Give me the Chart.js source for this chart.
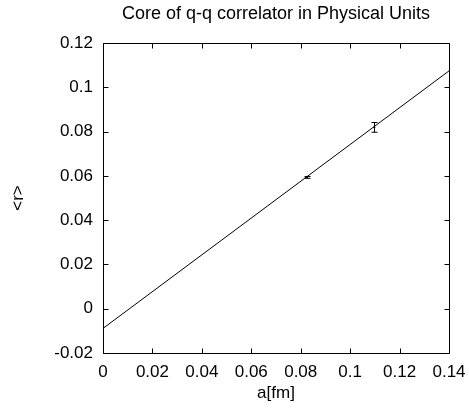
<!DOCTYPE html>
<html>
<head>
<meta charset="utf-8">
<script src="https://cdn.jsdelivr.net/npm/chart.js@4/dist/chart.umd.min.js"></script>
<style>
html,body{margin:0;padding:0;background:#fff;}
#wrap{width:469px;height:413px;position:relative;}
</style>
</head>
<body>
<div id="wrap"><canvas id="c" width="469" height="413"></canvas></div>
<script>
// Data
const pointX = [0.0824, 0.1098];
const pointY = [0.0593, 0.0819];
const pointErr = [0.0004, 0.0022];
const fitX = [0, 0.14];
const fitY = [-0.0089, 0.1074];
const xTicks = [0, 0.02, 0.04, 0.06, 0.08, 0.1, 0.12, 0.14];
const yTicks = [-0.02, 0, 0.02, 0.04, 0.06, 0.08, 0.1, 0.12];
const titleText = 'Core of q-q correlator in Physical Units';
const xLabel = 'a[fm]';
const yLabel = '<r>';

const fmt = v => String(Number(v.toFixed(2)));
const FONT = "'Liberation Sans', Arial, Helvetica, sans-serif";

const frame = {
  id: 'frame',
  afterDatasetsDraw(chart) {
    const ctx = chart.ctx;
    const xs = chart.scales.x, ys = chart.scales.y;
    ctx.save();
    ctx.strokeStyle = '#000';
    ctx.lineWidth = 1;
    pointX.forEach((px, i) => {
      const x = Math.round(xs.getPixelForValue(px)) + 0.5;
      const y1 = ys.getPixelForValue(pointY[i] + pointErr[i]);
      const y2 = ys.getPixelForValue(pointY[i] - pointErr[i]);
      ctx.beginPath();
      ctx.moveTo(x, y1); ctx.lineTo(x, y2);
      ctx.moveTo(x - 3, y1); ctx.lineTo(x + 3, y1);
      ctx.moveTo(x - 3, y2); ctx.lineTo(x + 3, y2);
      ctx.stroke();
    });
    ctx.restore();
  },
  afterDraw(chart) {
    const ctx = chart.ctx;
    const a = chart.chartArea;
    const xs = chart.scales.x, ys = chart.scales.y;
    ctx.save();
    ctx.strokeStyle = '#000';
    ctx.lineWidth = 1;
    ctx.beginPath();
    const L = Math.round(a.left) + 0.5, R = Math.round(a.right) + 0.5;
    const T = Math.round(a.top) + 0.5, B = Math.round(a.bottom) + 0.5;
    ctx.rect(L, T, R - L, B - T);
    const tl = 5;
    xTicks.forEach(v => {
      const x = Math.round(xs.getPixelForValue(v)) + 0.5;
      ctx.moveTo(x, B); ctx.lineTo(x, B - tl);
      ctx.moveTo(x, T); ctx.lineTo(x, T + tl);
    });
    yTicks.forEach(v => {
      const y = Math.round(ys.getPixelForValue(v)) + 0.5;
      ctx.moveTo(L, y); ctx.lineTo(L + tl, y);
      ctx.moveTo(R, y); ctx.lineTo(R - tl, y);
    });
    ctx.stroke();
    ctx.restore();
  }
};

new Chart(document.getElementById('c'), {
  type: 'scatter',
  data: {
    datasets: [
      {
        data: fitX.map((x, i) => ({x, y: fitY[i]})),
        showLine: true,
        borderColor: '#000',
        borderWidth: 1,
        pointRadius: 0,
        fill: false,
        clip: 0
      },
      {
        data: pointX.map((x, i) => ({x, y: pointY[i]})),
        showLine: false,
        pointRadius: 1.5,
        pointStyle: 'triangle',
        backgroundColor: '#000',
        borderColor: '#000',
        borderWidth: 0
      }
    ]
  },
  options: {
    responsive: false,
    animation: false,
    devicePixelRatio: 1,
    layout: { padding: { left: 0, right: 20, top: 0, bottom: 0 } },
    plugins: {
      legend: { display: false },
      tooltip: { enabled: false },
      title: {
        display: true,
        fullSize: false,
        text: titleText,
        color: '#000',
        font: { family: FONT, size: 18, weight: 'normal' },
        padding: { top: 3.2, bottom: 18.2 }
      }
    },
    scales: {
      x: {
        type: 'linear',
        min: 0, max: 0.14,
        afterBuildTicks: s => { s.ticks = xTicks.map(v => ({value: v})); },
        afterFit: s => { s.height = 60; s.paddingLeft = 0; s.paddingRight = 0; },
        grid: { display: false, drawTicks: false },
        border: { display: false },
        ticks: {
          color: '#000',
          padding: 9,
          maxRotation: 0,
          autoSkip: false,
          font: { family: FONT, size: 17 },
          callback: v => fmt(v)
        },
        title: {
          display: true,
          text: xLabel,
          color: '#000',
          font: { family: FONT, size: 17 },
          padding: { top: 0, bottom: 9.5 }
        }
      },
      y: {
        type: 'linear',
        min: -0.02, max: 0.12,
        afterBuildTicks: s => { s.ticks = yTicks.map(v => ({value: v})); },
        afterFit: s => { s.width = 103; s.paddingTop = 0; s.paddingBottom = 0; },
        grid: { display: false, drawTicks: false },
        border: { display: false },
        ticks: {
          color: '#000',
          padding: 10,
          autoSkip: false,
          font: { family: FONT, size: 17 },
          callback: v => fmt(v)
        },
        title: {
          display: true,
          text: yLabel,
          color: '#000',
          font: { family: FONT, size: 17 },
          padding: { top: 8, bottom: 0 }
        }
      }
    }
  },
  plugins: [frame]
});
</script>
</body>
</html>
